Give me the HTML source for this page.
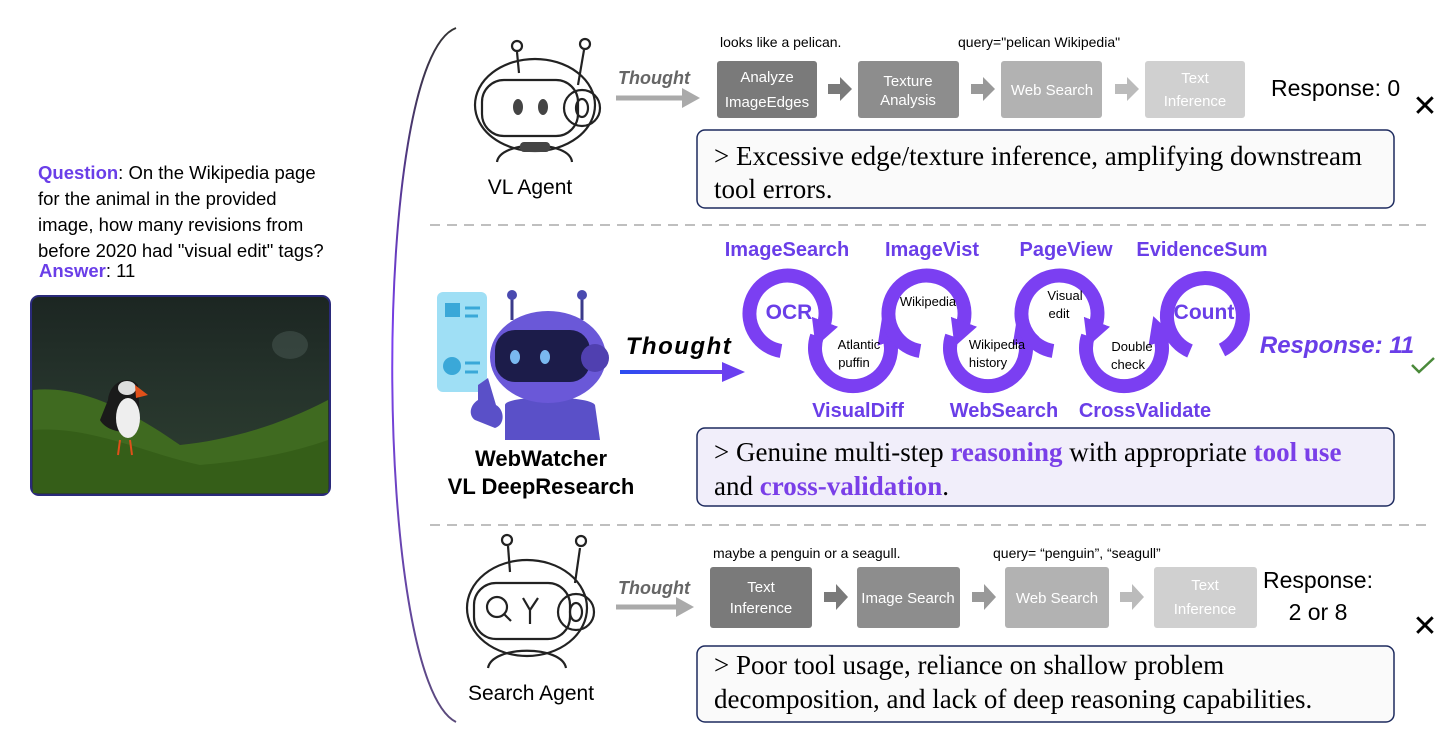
<!DOCTYPE html>
<html><head><meta charset="utf-8"><style>
html,body{margin:0;padding:0;background:#fff;}
svg{display:block;}
.s{font-family:"Liberation Sans","DejaVu Sans",sans-serif;}
.r{font-family:"Liberation Serif",serif;}
</style></head><body>
<svg width="1456" height="744" viewBox="0 0 1456 744" xmlns="http://www.w3.org/2000/svg">
<defs>
<linearGradient id="arc" x1="0" y1="0" x2="0" y2="1">
<stop offset="0" stop-color="#333"/><stop offset="0.45" stop-color="#7a3ff0"/><stop offset="1" stop-color="#5a4a7a"/></linearGradient>
<linearGradient id="ta" gradientUnits="userSpaceOnUse" x1="620" y1="0" x2="745" y2="0"><stop offset="0" stop-color="#2a4cf0"/><stop offset="1" stop-color="#7a3ff0"/></linearGradient>
<linearGradient id="bg" x1="0" y1="0" x2="0" y2="1"><stop offset="0" stop-color="#1c2622"/><stop offset="0.5" stop-color="#26342c"/><stop offset="1" stop-color="#2e4030"/></linearGradient>
<marker id="ah" markerWidth="1.9" markerHeight="2" refX="0.4" refY="1" orient="auto" markerUnits="strokeWidth"><path d="M0,0 L1.9,1 L0,2 Z" fill="#7b3ff2"/></marker>
</defs>

<path d="M456,28 C370,60 372,680 456,722" fill="none" stroke="url(#arc)" stroke-width="2"/>

<text class="s" x="38" y="179" font-size="18.5"><tspan fill="#6a3ee8" font-weight="bold">Question</tspan>: On the Wikipedia page</text>
<text class="s" x="38" y="205" font-size="18.5">for the animal in the provided</text>
<text class="s" x="38" y="231" font-size="18.5">image, how many revisions from</text>
<text class="s" x="38" y="257" font-size="18.5">before 2020 had "visual edit" tags?</text>
<text class="s" x="39" y="277" font-size="18.5"><tspan fill="#6a3ee8" font-weight="bold">Answer</tspan>: 11</text>

<rect x="31" y="296" width="299" height="199" rx="8" fill="url(#bg)" stroke="#2a2a7a" stroke-width="2"/>
<ellipse cx="290" cy="345" rx="18" ry="14" fill="#4a5a54" opacity="0.5"/>
<path d="M33,390 C80,385 130,410 180,445 C230,440 280,425 328,400 L328,493 L33,493 Z" fill="#3f6a20"/>
<path d="M33,430 C90,425 150,455 200,465 C260,460 300,450 328,440 L328,493 L33,493 Z" fill="#355e18"/>
<path d="M108,400 C110,380 130,375 138,385 L140,420 C130,440 105,430 100,420 Z" fill="#1a1a1a"/>
<ellipse cx="128" cy="418" rx="12" ry="20" fill="#eee"/>
<ellipse cx="127" cy="388" rx="9" ry="7" fill="#ddd"/>
<path d="M135,385 L148,395 L136,398 Z" fill="#e0501a"/>
<path d="M120,440 L118,455 M130,440 L132,455" stroke="#e0501a" stroke-width="2"/>

<line x1="430" y1="225" x2="1430" y2="225" stroke="#aaa" stroke-width="1.5" stroke-dasharray="10,7"/>
<line x1="430" y1="525" x2="1430" y2="525" stroke="#aaa" stroke-width="1.5" stroke-dasharray="10,7"/>

<!-- ROW 1 robot -->
<g fill="none" stroke="#222" stroke-width="2.2">
<line x1="517" y1="52" x2="519" y2="73"/><circle cx="517" cy="46" r="5"/>
<line x1="584" y1="50" x2="578" y2="85"/><circle cx="585" cy="44" r="5"/>
<ellipse cx="535" cy="105" rx="60" ry="46"/>
<rect x="482" y="80" width="96" height="56" rx="22"/>
<circle cx="582" cy="108" r="18"/><ellipse cx="582" cy="108" rx="6" ry="9"/>
<path d="M497,162 C500,140 570,140 572,162"/>
</g>
<ellipse cx="518" cy="107" rx="5" ry="8" fill="#444"/><ellipse cx="543" cy="107" rx="5" ry="8" fill="#444"/>
<rect x="520" y="142" width="30" height="10" rx="4" fill="#444"/>
<text class="s" x="530" y="194" font-size="21" text-anchor="middle">VL Agent</text>

<text class="s" x="654" y="84" font-size="18" font-weight="bold" font-style="italic" fill="#666" text-anchor="middle">Thought</text>
<line x1="616" y1="98" x2="684" y2="98" stroke="#aaa" stroke-width="5"/><path d="M682,88 L700,98 L682,108 Z" fill="#aaa"/>
<text class="s" x="720" y="47" font-size="14">looks like a pelican.</text>
<text class="s" x="958" y="47" font-size="14">query="pelican Wikipedia"</text>
<g class="s" font-size="15" fill="#fff" text-anchor="middle">
<rect x="717" y="61" width="100" height="57" rx="3" fill="#7a7a7a"/><text x="767" y="82">Analyze</text><text x="767" y="107">ImageEdges</text>
<rect x="858" y="61" width="101" height="57" rx="3" fill="#8d8d8d"/><text x="908" y="86">Texture</text><text x="908" y="105">Analysis</text>
<rect x="1001" y="61" width="101" height="57" rx="3" fill="#b2b2b2"/><text x="1052" y="95">Web Search</text>
<rect x="1145" y="61" width="100" height="57" rx="3" fill="#d0d0d0"/><text x="1195" y="83">Text</text><text x="1195" y="106">Inference</text>
</g>
<path d="M828,84 h12 v-7 l12,12 l-12,12 v-7 h-12 Z" fill="#7a7a7a"/>
<path d="M971,84 h12 v-7 l12,12 l-12,12 v-7 h-12 Z" fill="#999"/>
<path d="M1115,84 h12 v-7 l12,12 l-12,12 v-7 h-12 Z" fill="#bbb"/>
<text class="s" x="1271" y="96" font-size="23">Response: 0</text>
<text class="s" x="1425" y="116" font-size="30" text-anchor="middle">✕</text>
<rect x="697" y="130" width="697" height="78" rx="8" fill="#fafafa" stroke="#1d2a5e" stroke-width="1.5"/>
<text class="r" x="714" y="165" font-size="27">&gt; Excessive edge/texture inference, amplifying downstream</text>
<text class="r" x="714" y="198" font-size="27">tool errors.</text>

<!-- ROW 2 robot -->
<rect x="437" y="292" width="50" height="100" rx="6" fill="#7fd4f2" opacity="0.75"/>
<rect x="445" y="303" width="15" height="14" fill="#3aa8d8"/>
<g stroke="#3aa8d8" stroke-width="3"><line x1="465" y1="308" x2="480" y2="308"/><line x1="465" y1="316" x2="478" y2="316"/><line x1="465" y1="363" x2="480" y2="363"/><line x1="465" y1="372" x2="478" y2="372"/></g>
<circle cx="452" cy="366" r="9" fill="#3aa8d8"/>
<line x1="512" y1="298" x2="512" y2="320" stroke="#3a3a8a" stroke-width="3"/><circle cx="512" cy="295" r="5" fill="#4a4ab0"/>
<line x1="582" y1="298" x2="582" y2="320" stroke="#3a3a8a" stroke-width="3"/><circle cx="582" cy="295" r="5" fill="#4a4ab0"/>
<path d="M505,405 C505,395 590,395 595,405 L600,440 L505,440 Z" fill="#5a50c8"/>
<ellipse cx="548" cy="357" rx="58" ry="46" fill="#6a58d8"/>
<rect x="495" y="330" width="95" height="52" rx="20" fill="#1c1c4a"/>
<ellipse cx="515" cy="357" rx="5" ry="7" fill="#7ab8f0"/><ellipse cx="545" cy="357" rx="5" ry="7" fill="#7ab8f0"/>
<circle cx="595" cy="358" r="14" fill="#5040b0"/>
<path d="M478,385 L488,378 L496,405 C505,410 505,425 495,428 L475,420 C468,415 470,405 478,400 Z" fill="#5a50c8"/>
<text class="s" x="541" y="466" font-size="22" font-weight="bold" text-anchor="middle">WebWatcher</text>
<text class="s" x="541" y="494" font-size="22" font-weight="bold" text-anchor="middle">VL DeepResearch</text>

<text class="s" x="679" y="354" font-size="24" font-weight="bold" font-style="italic" letter-spacing="1.5" text-anchor="middle">Thought</text>
<rect x="620" y="370" width="106" height="4" fill="url(#ta)"/><path d="M722,362 L745,372 L722,382 Z" fill="#6a3ff0"/>

<g fill="none" stroke="#7b3ff2" stroke-width="14" marker-end="url(#ah)">
<path d="M781,351 A38,38 0 1 1 823,327"/>
<path d="M817,336 A38,38 0 1 0 889,336"/>
<path d="M920,351 A38,38 0 1 1 962,327"/>
<path d="M952,336 A38,38 0 1 0 1024,336"/>
<path d="M1053,351 A38,38 0 1 1 1095,327"/>
<path d="M1088,336 A38,38 0 1 0 1160,336"/>
</g>
<path d="M1190,351 A38,38 0 1 1 1222,350" fill="none" stroke="#7b3ff2" stroke-width="14"/>
<g class="s" font-weight="bold" fill="#6a3ee8" text-anchor="middle" font-size="20">
<text x="787" y="256">ImageSearch</text><text x="932" y="256">ImageVist</text><text x="1066" y="256">PageView</text><text x="1202" y="256">EvidenceSum</text>
<text x="858" y="417">VisualDiff</text><text x="1004" y="417">WebSearch</text><text x="1145" y="417">CrossValidate</text>
<text x="789" y="319" font-size="21">OCR</text><text x="1204" y="319" font-size="21">Count</text>
</g>
<g class="s" font-size="13" fill="#000" text-anchor="middle">
<text x="859" y="349">Atlantic</text><text x="854" y="367">puffin</text>
<text x="928" y="306">Wikipedia</text>
<text x="997" y="349">Wikipedia</text><text x="988" y="367">history</text>
<text x="1065" y="300">Visual</text><text x="1059" y="318">edit</text>
<text x="1132" y="351">Double</text><text x="1128" y="369">check</text>
</g>
<text class="s" x="1337" y="353" font-size="24" font-weight="bold" font-style="italic" fill="#6a3ee8" text-anchor="middle">Response: 11</text>
<path d="M1412,365 L1419,372 L1434,358" fill="none" stroke="#4a8a3a" stroke-width="2.5"/>
<rect x="697" y="428" width="697" height="78" rx="8" fill="#f1eefa" stroke="#1d2a5e" stroke-width="1.5"/>
<text class="r" x="714" y="461" font-size="27">&gt; Genuine multi-step <tspan fill="#7a3fe8" font-weight="bold">reasoning</tspan> with appropriate <tspan fill="#7a3fe8" font-weight="bold">tool use</tspan></text>
<text class="r" x="714" y="495" font-size="27">and <tspan fill="#7a3fe8" font-weight="bold">cross-validation</tspan>.</text>

<!-- ROW 3 robot -->
<g fill="none" stroke="#222" stroke-width="2.2">
<line x1="508" y1="546" x2="510" y2="572"/><circle cx="507" cy="540" r="5"/>
<line x1="580" y1="548" x2="575" y2="583"/><circle cx="581" cy="541" r="5"/>
<ellipse cx="527" cy="608" rx="60" ry="48"/>
<rect x="474" y="583" width="96" height="56" rx="22"/>
<circle cx="576" cy="612" r="18"/><ellipse cx="576" cy="612" rx="6" ry="9"/>
<path d="M488,668 C492,645 562,645 566,668"/>
<circle cx="497" cy="607" r="10"/><line x1="504" y1="614" x2="511" y2="621"/>
<path d="M523,598 L530,610 L538,598 M530,610 L530,624"/>
</g>
<text class="s" x="531" y="700" font-size="21" text-anchor="middle">Search Agent</text>

<text class="s" x="654" y="594" font-size="18" font-weight="bold" font-style="italic" fill="#666" text-anchor="middle">Thought</text>
<line x1="616" y1="607" x2="678" y2="607" stroke="#aaa" stroke-width="5"/><path d="M676,597 L694,607 L676,617 Z" fill="#aaa"/>
<text class="s" x="713" y="558" font-size="14">maybe a penguin or a seagull.</text>
<text class="s" x="993" y="558" font-size="14">query= “penguin”, “seagull”</text>
<g class="s" font-size="15" fill="#fff" text-anchor="middle">
<rect x="710" y="567" width="102" height="61" rx="3" fill="#7a7a7a"/><text x="761" y="592">Text</text><text x="761" y="613">Inference</text>
<rect x="857" y="567" width="103" height="61" rx="3" fill="#8d8d8d"/><text x="908" y="603">Image Search</text>
<rect x="1005" y="567" width="104" height="61" rx="3" fill="#b2b2b2"/><text x="1057" y="603">Web Search</text>
<rect x="1154" y="567" width="103" height="61" rx="3" fill="#d0d0d0"/><text x="1205" y="590">Text</text><text x="1205" y="614">Inference</text>
</g>
<path d="M824,592 h12 v-8 l12,13 l-12,13 v-8 h-12 Z" fill="#7a7a7a"/>
<path d="M972,592 h12 v-8 l12,13 l-12,13 v-8 h-12 Z" fill="#999"/>
<path d="M1120,592 h12 v-8 l12,13 l-12,13 v-8 h-12 Z" fill="#bbb"/>
<text class="s" x="1318" y="588" font-size="23" text-anchor="middle">Response:</text>
<text class="s" x="1318" y="620" font-size="23" text-anchor="middle">2 or 8</text>
<text class="s" x="1425" y="636" font-size="30" text-anchor="middle">✕</text>
<rect x="697" y="646" width="697" height="76" rx="8" fill="#fafafa" stroke="#1d2a5e" stroke-width="1.5"/>
<text class="r" x="714" y="674" font-size="27">&gt; Poor tool usage, reliance on shallow problem</text>
<text class="r" x="714" y="708" font-size="27">decomposition, and lack of deep reasoning capabilities.</text>
</svg>
</body></html>
